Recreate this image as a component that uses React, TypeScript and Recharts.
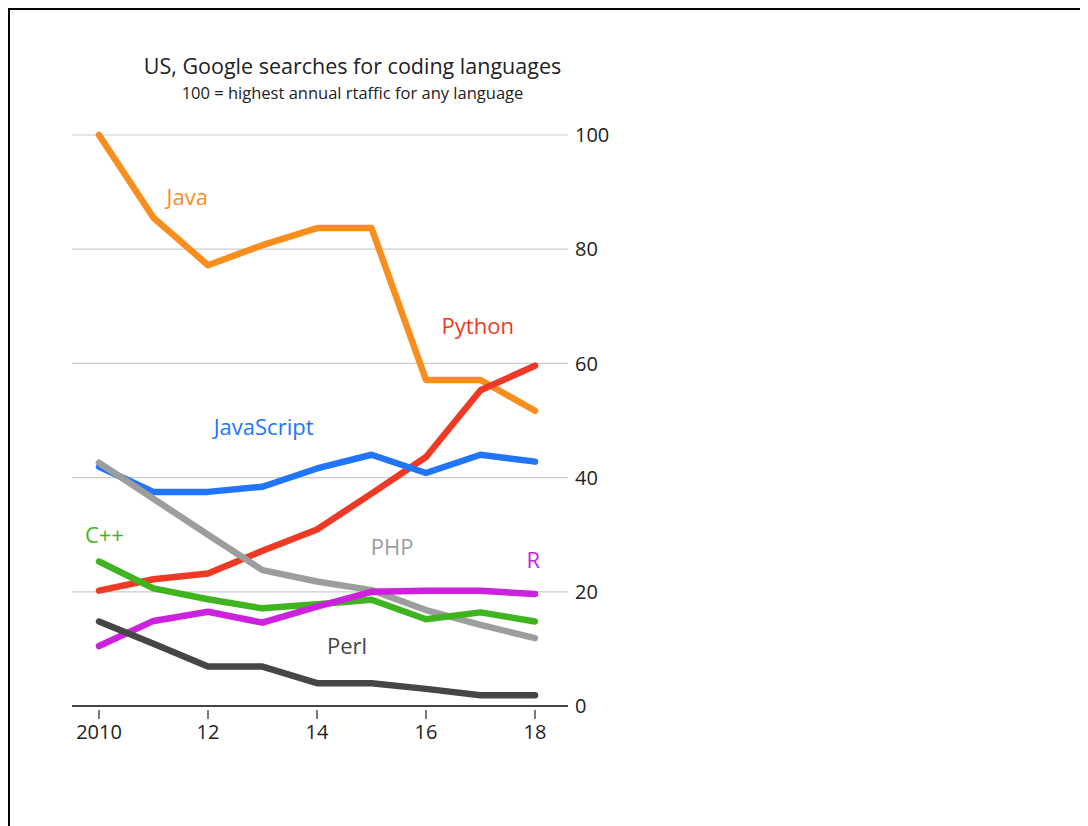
import { CartesianGrid, Line, LineChart, ReferenceDot, XAxis, YAxis } from "recharts";

const years = [2010, 2011, 2012, 2013, 2014, 2015, 2016, 2017, 2018];
const java = [100, 85.5, 77.2, 80.7, 83.7, 83.7, 57.1, 57.1, 51.7];
const python = [20.2, 22.2, 23.2, 27.2, 30.9, 37.2, 43.6, 55.3, 59.6];
const javascript = [41.9, 37.5, 37.5, 38.4, 41.6, 44.0, 40.8, 44.0, 42.8];
const php = [42.6, 36.3, 30.0, 23.8, 21.8, 20.3, 16.8, 14.2, 11.9];
const cpp = [25.3, 20.6, 18.7, 17.1, 17.8, 18.6, 15.2, 16.4, 14.8];
const rLang = [10.5, 14.9, 16.5, 14.6, 17.4, 20.0, 20.2, 20.2, 19.6];
const perl = [14.8, 10.9, 6.9, 6.9, 4.0, 4.0, 3.0, 1.9, 1.9];

const xTicks = [2010, 2012, 2014, 2016, 2018];
const xTickLabels = ["2010", "12", "14", "16", "18"];
const yTicks = [0, 20, 40, 60, 80, 100];

const series = [
  { key: "Java", values: java, color: "#f98d1e" },
  { key: "Python", values: python, color: "#ee3a24" },
  { key: "JavaScript", values: javascript, color: "#2175fb" },
  { key: "PHP", values: php, color: "#9d9d9d" },
  { key: "C++", values: cpp, color: "#3fb41f" },
  { key: "R", values: rLang, color: "#cc22dd" },
  { key: "Perl", values: perl, color: "#464646" },
];

// where each series name sits, in data units
const nameLabels = [
  { key: "Java", x: 2011.62, y: 89.1 },
  { key: "Python", x: 2016.95, y: 66.6 },
  { key: "JavaScript", x: 2013.02, y: 48.9 },
  { key: "C++", x: 2010.1, y: 30.0 },
  { key: "PHP", x: 2015.38, y: 27.9 },
  { key: "R", x: 2017.97, y: 25.5 },
  { key: "Perl", x: 2014.55, y: 10.4 },
];

const data = years.map((year, i) => {
  const row: Record<string, number> = { year };
  series.forEach((s) => {
    row[s.key] = s.values[i];
  });
  return row;
});

const FONT = "'Open Sans', 'Noto Sans', sans-serif";

function XTick(props: any) {
  const { x, y, payload } = props;
  const idx = xTicks.indexOf(payload.value);
  return (
    <g>
      <line x1={x} x2={x} y1={y - 4} y2={y + 5} stroke="#222" strokeWidth={1.2} />
      <text x={x} y={y + 25} textAnchor="middle" fontSize={20} fill="#222" fontFamily={FONT}>
        {xTickLabels[idx]}
      </text>
    </g>
  );
}

export default function App() {
  return (
    <div
      style={{
        position: "relative",
        width: 1080,
        height: 818,
        boxSizing: "border-box",
        borderTop: "2px solid #000",
        borderLeft: "2px solid #000",
        background: "#fff",
        overflow: "hidden",
        fontFamily: FONT,
        color: "#222",
      }}
    >
      <div
        style={{
          position: "absolute",
          left: 110,
          top: 41,
          width: 465,
          textAlign: "center",
          fontSize: 21.5,
          whiteSpace: "nowrap",
        }}
      >
        US, Google searches for coding languages
      </div>
      <div
        style={{
          position: "absolute",
          left: 110,
          top: 71,
          width: 465,
          textAlign: "center",
          fontSize: 16.5,
          whiteSpace: "nowrap",
        }}
      >
        100 = highest annual rtaffic for any language
      </div>
      <LineChart
        width={1078}
        height={816}
        data={data}
        margin={{ top: 125, right: 460, bottom: 80, left: 62 }}
      >
        <CartesianGrid vertical={false} stroke="#cccccc" strokeWidth={1.2} />
        <XAxis
          dataKey="year"
          type="number"
          domain={[2010, 2018]}
          ticks={xTicks}
          padding={{ left: 27, right: 33 }}
          stroke="#111"
          strokeWidth={1.3}
          tickLine={false}
          tick={<XTick />}
          height={40}
          interval={0}
        />
        <YAxis
          orientation="right"
          domain={[0, 100]}
          ticks={yTicks}
          axisLine={false}
          tickLine={false}
          tickSize={0}
          tickMargin={7}
          width={60}
          tick={{ fill: "#222", fontSize: 20, fontFamily: FONT, textAnchor: "start" }}
        />
        {series.map((s) => (
          <Line
            key={s.key}
            dataKey={s.key}
            type="linear"
            stroke={s.color}
            strokeWidth={6.5}
            dot={false}
            activeDot={false}
            strokeLinecap="round"
            strokeLinejoin="round"
            isAnimationActive={false}
          />
        ))}
        {nameLabels.map((l) => {
          const color = series.find((s) => s.key === l.key)!.color;
          return (
            <ReferenceDot
              key={l.key}
              x={l.x}
              y={l.y}
              r={0}
              stroke="none"
              fill="none"
              label={{
                value: l.key,
                position: "center",
                fill: color,
                fontSize: 22,
                fontFamily: FONT,
              }}
            />
          );
        })}
      </LineChart>
    </div>
  );
}
